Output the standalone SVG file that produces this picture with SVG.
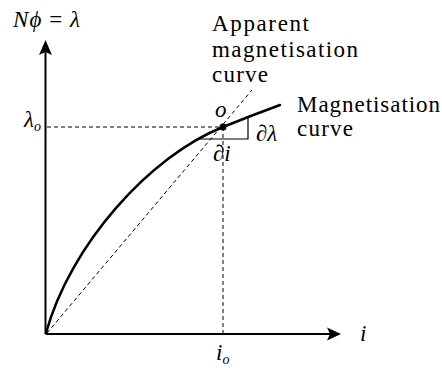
<svg xmlns="http://www.w3.org/2000/svg" width="442" height="368" viewBox="0 0 442 368">
<style>
.ax{stroke:#000;stroke-width:2;fill:none}
.cv{stroke:#000;stroke-width:2.5;fill:none;stroke-linecap:round}
.ds{stroke:#000;stroke-width:1;fill:none;stroke-dasharray:4 3}
.th{stroke:#000;stroke-width:1.2;fill:none}
.t{font-family:"Liberation Serif",serif;font-size:23px;fill:#000}
.it{font-style:italic}
</style>
<rect width="442" height="368" fill="#fff"/>
<g id="axes">
<path class="ax" d="M45.5,334 V52 M45.5,334 H330"/>
<path d="M45.5,40 L52,55 L45.5,52 L39,55 Z" fill="#000"/>
<path d="M341,334 L327,340.5 L330,334 L327,327.5 Z" fill="#000"/>
</g>
<g id="connectors">
<path class="ds" d="M47,127 H223"/>
<path class="ds" d="M223,127 V333"/>
<path class="ds" d="M47,333 L252,90"/>
<path class="th" d="M197,139 H248 V117"/>
</g>
<g id="magnetisation-curve">
<path class="cv" d="M46,333 C70,245 150,156 223,127 Q250,116 280,105"/>
</g>
<g id="point-o">
<circle cx="223" cy="127" r="3.5" fill="#000"/>
<text class="t it" x="215" y="117">o</text>
</g>
<g id="labels">
<text class="t" x="13" y="27" textLength="67" lengthAdjust="spacing"><tspan class="it">Nϕ</tspan> = <tspan class="it">λ</tspan></text>
<text class="t" x="212" y="31" textLength="97" lengthAdjust="spacing">Apparent</text>
<text class="t" x="212" y="57" textLength="146" lengthAdjust="spacing">magnetisation</text>
<text class="t" x="212" y="82" textLength="56" lengthAdjust="spacing">curve</text>
<text class="t" x="297" y="112" textLength="143" lengthAdjust="spacing">Magnetisation</text>
<text class="t" x="297" y="136" textLength="56" lengthAdjust="spacing">curve</text>
<text class="t it" x="256" y="141">∂λ</text>
<text class="t it" x="213" y="161">∂i</text>
<text class="t it" x="24" y="127">λ<tspan font-size="14" dy="4">o</tspan></text>
<text class="t it" x="360" y="341">i</text>
<text class="t it" x="216" y="360">i<tspan font-size="14" dy="4">o</tspan></text>
</g>
</svg>
